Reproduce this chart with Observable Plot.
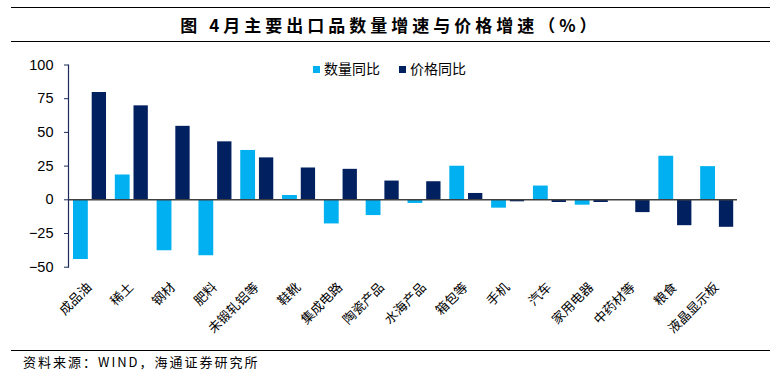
<!DOCTYPE html>
<html>
<head>
<meta charset="utf-8">
<script src="https://cdn.jsdelivr.net/npm/d3@7"></script>
<script src="https://cdn.jsdelivr.net/npm/@observablehq/plot@0.6"></script>
<style>
  body { margin: 0; background: #fff; }
  #wrap { position: relative; width: 780px; height: 379px; font-family: "Noto Sans CJK SC", sans-serif; color: #000; }
  #title { position: absolute; top: 7px; left: 11px; width: 759px; height: 33px; border-top: 1.5px solid #000; border-bottom: 1.5px solid #000; text-align: center; line-height: 33px; font-size: 17px; font-weight: bold; letter-spacing: 4px; }
  #chart { position: absolute; top: 44px; left: 0; }
  #legend { position: absolute; top: 59px; left: 313px; font-size: 14px; line-height: 18px; white-space: nowrap; }
  #legend span.sw { display: inline-block; width: 7px; height: 7px; margin-right: 4px; vertical-align: middle; position: relative; top: -1px; }
  #legend span.item { margin-right: 19px; }
  #caption { position: absolute; top: 350px; left: 11px; width: 759px; border-top: 1.5px solid #000; font-size: 13px; padding-left: 12px; box-sizing: border-box; line-height: 22px; letter-spacing: 2px; }
</style>
</head>
<body>
<div id="wrap">
  <div id="title">图&nbsp;4月主要出口品数量增速与价格增速（%）</div>
  <div id="chart"></div>
  <div id="legend"></div>
  <div id="caption">资料来源：WIND，海通证券研究所</div>
</div>
<script>
const categories = ["成品油","稀土","钢材","肥料","未锻轧铝等","鞋靴","集成电路","陶瓷产品","水海产品","箱包等","手机","汽车","家用电器","中药材等","粮食","液晶显示板"];
const quantity = [-44.3, 18.4, -37.8, -41.5, 36.6, 3.2, -17.9, -11.7, -2.7, 24.9, -6.2, 10.2, -4.0, 0, 32.3, 24.6];
const price = [79.6, 69.7, 54.5, 43.0, 31.1, 23.6, 22.6, 13.9, 13.4, 4.7, -1.5, -2.0, -2.0, -9.5, -19.2, -20.4];
const seriesNames = ["数量同比", "价格同比"];
const seriesColors = ["#00B0F0", "#002060"];
const yTicks = [-50, -25, 0, 25, 50, 75, 100];

const qData = categories.map((c, i) => ({category: c, value: quantity[i]}));
const pData = categories.map((c, i) => ({category: c, value: price[i]}));

const chart = Plot.plot({
  width: 780,
  height: 306,
  marginLeft: 68,
  marginRight: 43,
  marginTop: 20.5,
  marginBottom: 83.3,
  style: {fontFamily: "'Liberation Sans', Arial, 'Noto Sans CJK SC', sans-serif", color: "#000", background: "transparent"},
  x: {domain: categories, padding: 0, round: false, label: null},
  y: {domain: [-50, 100], label: null},
  marks: [
    Plot.barY(qData, {x: "category", y: "value", fill: seriesColors[0], insetLeft: 5, insetRight: 22}),
    Plot.barY(pData, {x: "category", y: "value", fill: seriesColors[1], insetLeft: 23.7, insetRight: 3.8}),
    Plot.ruleY([0], {stroke: "#404040", strokeWidth: 1.5}),
    Plot.frame({anchor: "left", stroke: "#1a2a5a", strokeWidth: 1.2}),
    Plot.axisY({ticks: yTicks, tickSize: 4, tickPadding: 11, fontSize: 14.5, stroke: "#1a2a5a", label: null}),
    Plot.axisX({tickSize: 0, tickRotate: -45, tickPadding: 18, fontSize: 13, fontFamily: "'Noto Sans CJK SC', sans-serif", label: null})
  ]
});
document.getElementById("chart").appendChild(chart);

const legend = document.getElementById("legend");
seriesNames.forEach((name, i) => {
  const item = document.createElement("span");
  item.className = "item";
  const sw = document.createElement("span");
  sw.className = "sw";
  sw.style.background = seriesColors[i];
  item.appendChild(sw);
  item.appendChild(document.createTextNode(name));
  legend.appendChild(item);
});
</script>
</body>
</html>
